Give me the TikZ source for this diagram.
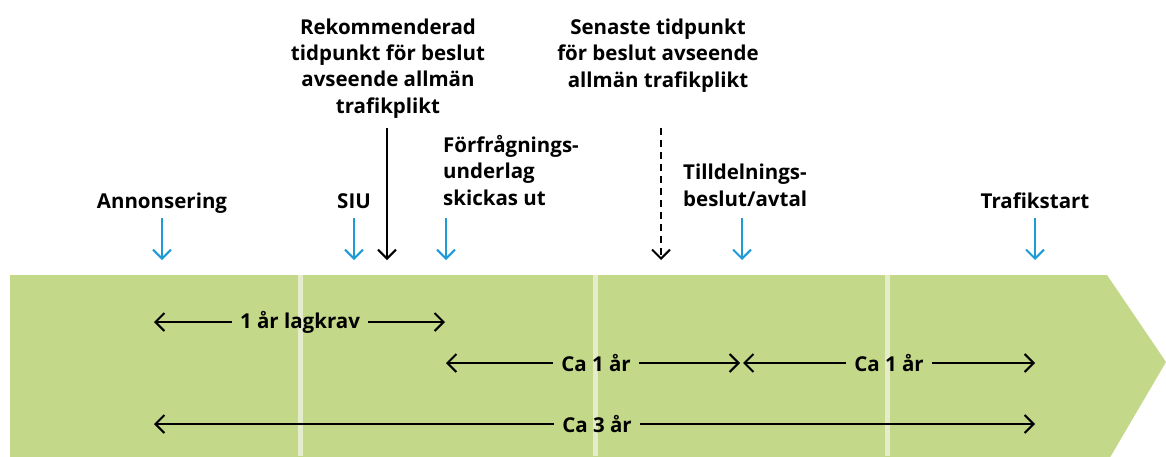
\documentclass[tikz,border=0pt]{standalone}
\usepackage{fontspec}
\setmainfont{Open Sans}
\usetikzlibrary{arrows.meta}
\definecolor{bandgreen}{RGB}{195,216,137}
\definecolor{dividercol}{RGB}{228,236,204}
\definecolor{arrowblue}{RGB}{30,155,215}
\begin{document}
\begin{tikzpicture}[x=1pt,y=-1pt,
  lbl/.style={font=\fontsize{20.5}{26.3}\selectfont\bfseries, inner sep=0pt, anchor=base},
  mlbl/.style={lbl, align=center},
  llbl/.style={lbl, align=left, anchor=base west},
  dur/.style={font=\fontsize{20.5}{26}\selectfont\bfseries, inner xsep=8pt, inner ysep=0pt},
  tipline/.style={-{Straight Barb[length=9pt,width=18pt]}, line width=2pt},
  bluearrow/.style={tipline, draw=arrowblue},
  blackarrow/.style={tipline, draw=black},
  dasharrow/.style={tipline, draw=black, dash pattern=on 7pt off 5pt},
  divline/.style={draw=dividercol, line width=5pt}
]
\useasboundingbox (0,0) rectangle (1166,456);
% band
\begin{scope}
  \clip (0,0) rectangle (1166,456);
  \fill[bandgreen] (10,275) -- (1107,275) -- (1166,362) -- (1105,466) -- (10,466) -- cycle;
\end{scope}
\coordinate (d1t) at (300,275); \coordinate (d1b) at (300,456);
\coordinate (d2t) at (595,275); \coordinate (d2b) at (595,456);
\coordinate (d3t) at (887,275); \coordinate (d3b) at (887,456);
\draw[divline] (d1t) -- (d1b);
\draw[divline] (d2t) -- (d2b);
\draw[divline] (d3t) -- (d3b);

% top labels (base anchor = baseline of last line)
\node[mlbl] (rek) at (388,113) {Rekommenderad\\tidpunkt för beslut\\avseende allmän\\trafikplikt};
\node[mlbl] (sen) at (658,87) {Senaste tidpunkt\\för beslut avseende\\allmän trafikplikt};
\node[lbl] (ann) at (162,208) {Annonsering};
\node[lbl] (siu) at (354,208) {SIU};
\node[llbl] (ffu) at (443,205) {Förfrågnings-\\underlag\\skickas ut};
\node[llbl] (til) at (683,206) {Tilldelnings-\\beslut/avtal};
\node[lbl] (tra) at (1035,208) {Trafikstart};

% vertical arrows
\coordinate (a1t) at (162,218); \coordinate (a1b) at (162,260);
\coordinate (a2t) at (354,218); \coordinate (a2b) at (354,260);
\coordinate (a3t) at (446,218); \coordinate (a3b) at (446,260);
\coordinate (a4t) at (742,218); \coordinate (a4b) at (742,260);
\coordinate (a5t) at (1035,218); \coordinate (a5b) at (1035,260);
\coordinate (k1t) at (387,128); \coordinate (k1b) at (387,260);
\coordinate (k2t) at (661,128); \coordinate (k2b) at (661,260);
\draw[bluearrow] (a1t) -- (a1b);
\draw[bluearrow] (a2t) -- (a2b);
\draw[bluearrow] (a3t) -- (a3b);
\draw[bluearrow] (a4t) -- (a4b);
\draw[bluearrow] (a5t) -- (a5b);
\draw[blackarrow] (k1t) -- (k1b);
\draw[dasharrow] (k2t) -- (k2b);

% duration arrows
\coordinate (r1l) at (154,322); \coordinate (r1r) at (445,322);
\coordinate (r2l) at (446,363); \coordinate (r2m1) at (740,363);
\coordinate (r2m2) at (743,363); \coordinate (r2r) at (1035,363);
\coordinate (r3l) at (154,424); \coordinate (r3r) at (1035,424);

\node[dur] (lag) at (300,322) {1 år lagkrav};
\node[dur] (ca1a) at (596,363) {Ca 1 år};
\node[dur] (ca1b) at (889,363) {Ca 1 år};
\node[dur] (ca3) at (597,424) {Ca 3 år};

\draw[blackarrow] (lag.west) -- (r1l);
\draw[blackarrow] (lag.east) -- (r1r);
\draw[blackarrow] (ca1a.west) -- (r2l);
\draw[blackarrow] (ca1a.east) -- (r2m1);
\draw[blackarrow] (ca1b.west) -- (r2m2);
\draw[blackarrow] (ca1b.east) -- (r2r);
\draw[blackarrow] (ca3.west) -- (r3l);
\draw[blackarrow] (ca3.east) -- (r3r);
\end{tikzpicture}
\end{document}
